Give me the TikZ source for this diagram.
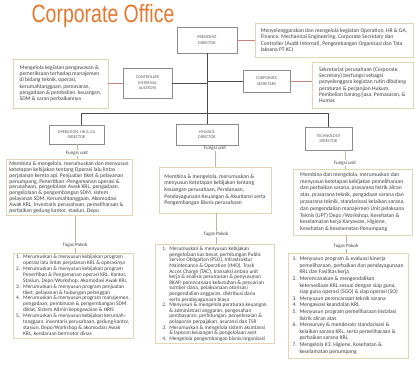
\documentclass[tikz,border=0pt]{standalone}
\usepackage{fontspec}
\setmainfont{Carlito}
\newfontfamily\titlefont{Liberation Sans}
\usepackage{graphicx}
\usetikzlibrary{positioning,calc}
\definecolor{orgorange}{HTML}{E4782E}
\definecolor{boxline}{HTML}{E3D4B4}
\definecolor{dirline}{HTML}{8C8C8C}
\definecolor{linkred}{HTML}{C9837A}
\definecolor{txtgray}{HTML}{404040}
\newcommand{\sz}[2]{\fontsize{#1}{#2}\selectfont}
\newcommand{\tn}[1]{\makebox[7pt][l]{#1}}
\newcommand{\tg}{\hspace*{7pt}}
\tikzset{
  dirbox/.style={draw=dirline, fill=white, text=txtgray!85, align=center, font=\sz{4.3}{5.4}, inner sep=1pt},
  descbox/.style={draw=boxline, line width=0.8pt, text=txtgray, align=left, inner sep=2pt},
  lbl/.style={text=txtgray, font=\sz{5}{6}, inner sep=1pt},
  mainline/.style={draw=black!70, line width=0.6pt},
  redline/.style={draw=linkred, line width=0.6pt},
  colline/.style={draw=boxline!85!black, line width=0.5pt}
}

\begin{document}
\begin{tikzpicture}[x=1pt, y=-1pt]
\useasboundingbox (0,0) rectangle (415,368);

% Title
\node[font=\titlefont\sz{25}{25}, text=orgorange] (title) at (103,16) {\scalebox{0.78}[1]{Corporate Office}};

% President
\node[dirbox, minimum width=60, minimum height=26] (pres) at (207,40) {PRESIDENT\\DIRECTOR};
\node[descbox, minimum width=158, minimum height=34, font=\sz{5.6}{6.2}] (presdesc) at (334,40)
  {Menyelenggarakan dan mengelola kegiatan Operation, HR \& GA,\\
   Finance, Mechanical Engineering, Corporate Secretary dan\\
   Controller (Audit Internal), Pengembangan Organisasi dan Tata\\
   laksana PT KCJ};

% Controller and Corporate Secretary
\node[dirbox, minimum width=49, minimum height=30] (ctrl) at (147.5,83) {CONTROLLER\\(INTERNAL\\AUDITOR)};
\node[descbox, minimum width=95, minimum height=49, font=\sz{5.6}{6.2}] (ctrldesc) at (60.5,83.5)
  {Mengelola kegiatan pengawasan \&\\
   pemeriksaan terhadap manajemen\\
   di bidang teknik, operasi,\\
   kerumahtanggaan, pemasaran,\\
   pengadaan \& pembelian, keuangan,\\
   SDM \& saran perbaikannya};
\node[dirbox, minimum width=47, minimum height=22] (sec) at (266.5,81) {CORPORATE\\SECRETARY};
\node[descbox, minimum width=101, minimum height=46, font=\sz{5.6}{6.2}] (secdesc) at (362.5,85)
  {Sekretariat perusahaan (Corporate\\
   Secretary) berfungsi sebagai\\
   penyelenggara kegiatan rutin dibidang\\
   peraturan \& perjanjian Hukum,\\
   Pembelian barang/jasa, Pemasaran, \&\\
   Humas};

% Directors
\node[dirbox, minimum width=55, minimum height=19] (op) at (76.5,134.5) {OPERATION, HR \& GA\\DIRECTOR};
\node[dirbox, minimum width=62, minimum height=21] (fin) at (207,134.5) {FINANCE\\DIRECTOR};
\node[dirbox, minimum width=47, minimum height=23] (tech) at (328.5,138.5) {TECHNOLOGY\\DIRECTOR};

\coordinate (brL) at (81,113);
\coordinate (brR) at (328.5,113);

% Operation column
\node[lbl] (opfu) at (77,153) {Fungsi unit};
\node[descbox, minimum width=126, minimum height=55, font=\sz{5.6}{5.9}] (opfun) at (69,187.5)
  {Membina \& mengelola, merumuskan dan menyusun\\
   ketetapan kebijakan tentang Operasi lalu lintas\\
   perjalanan kereta api, Penjualan tiket \& pelayanan\\
   penumpang, Penertiban -Pengamanan operasi \&\\
   perusahaan, pengelolaan Awak KRL, pengadaan,\\
   pengelolaan \& pengembangan SDM, sistem\\
   pelayanan SDM, Kerumahtanggaan, Akomodasi\\
   Awak KRL, Inventaris perusahaan, pemeliharaan \&\\
   perbaikan gedung kantor, stasiun, Depo};
\node[lbl] (optp) at (75,245) {Tugas Pokok};
\node[descbox, minimum width=120, minimum height=85, font=\sz{5.4}{5.9}] (optug) at (73,295.5)
  {\tn{1.}Merumuskan \& menyusun kebijakan program\\
   \tg operasi lalu lintas perjalanan KRL \& operasinya\\
   \tn{2.}Merumuskan \& menyusun kebijakan program\\
   \tg Penertiban \& Pengamanan operasi KRL, Kantor,\\
   \tg Stasiun, Depo/Workshop, Akomodasi Awak KRL\\
   \tn{3.}Merumuskan \& menyusun program penjualan\\
   \tg tiket, pelayanan \& hubungan pelanggan\\
   \tn{4.}Merumuskan \& menyusun program manajemen,\\
   \tg pengadaan, pembinaan \& pengembangan SDM,\\
   \tg diklat, Sistem Admin kepegawaian \& HRIS\\
   \tn{5.}Merumuskan \& menyusun kebijakan kerumah-\\
   \tg tanggaan, inventaris perusahaan, gedung kantor,\\
   \tg stasiun, Depo/Workshop \& akomodasi Awak\\
   \tg KRL, kendaraan bermotor dinas};

% Finance column
\node[lbl] (finfu) at (215,148) {Fungsi unit};
\node[descbox, minimum width=112, minimum height=46, font=\sz{5.6}{6.6}] (finfun) at (215,190)
  {Membina \& mengelola, merumuskan \&\\
   menyusun Ketetapan kebijakan tentang\\
   Keuangan perusahaan, Pendanaan,\\
   Pendayagunaan Keuangan \& Akuntansi serta\\
   Pengembangan Bisnis perusahaan};
\node[lbl] (fintp) at (216,234) {Tugas Pokok};
\node[descbox, minimum width=119, minimum height=96, font=\sz{5.4}{5.6}] (fintug) at (214.5,294)
  {\tn{1.}Merumuskan \& menyusun kebijakan\\
   \tg pengelolaan kas besar, perhitungan Public\\
   \tg Service Obligation (PSO), Infrastruktur\\
   \tg Maintenance \& Operation (IMO), Track\\
   \tg Acces Charge (TAC), transaksi antara unit\\
   \tg kerja \& analisis perumusan \& penyusunan\\
   \tg RKAP, perencanaan kebutuhan \& pencarian\\
   \tg sumber dana, pelaksanaan otorisasi\\
   \tg pengendalian anggaran, distribusi dana\\
   \tg serta pendayagunaan biaya\\
   \tn{2.}Menyusun \& mengelola peraturan keuangan\\
   \tg \& administrasi anggaran, pengesahan\\
   \tg pembayaran, perhitungan, penyelesaian \&\\
   \tg pelaporan perpajakan, asuransi dan TSR\\
   \tn{3.}Merumuskan \& mengelola sistem akuntansi\\
   \tg \& laporan keuangan \& pengelolaan aset\\
   \tn{4.}Mengelola pengembangan bisnis/organisasi};

% Technology column
\node[lbl] (techfu) at (345,163) {Fungsi unit};
\node[descbox, minimum width=119, minimum height=66, font=\sz{5.6}{6.8}] (techfun) at (352.5,202)
  {Membina dan mengelola, merumuskan dan\\
   menyusun ketetapan kebijakan pemeliharaan\\
   dan perbaikan sarana, prasarana listrik aliran\\
   atas, prasarana teknik, pengadaan sarana dan\\
   prasarana teknik, standarisasi kelaikan sarana,\\
   dan pengendalian manajemen Unit pelaksana\\
   Teknis (UPT) Depo /Workshop, Kesehatan \&\\
   keselamatan kerja Karyawan, Higiene,\\
   Kesehatan \& keselamatan Penumpang};
\node[lbl] (techtp) at (346,246) {Tugas Pokok};
\node[descbox, minimum width=120, minimum height=105, font=\sz{5.6}{6.6}] (techtug) at (348,305.5)
  {\tn{1.}Menyusun program \& evaluasi kinerja\\
   \tg pemeliharaan, perbaikan dan pendayagunaan\\
   \tg KRL dan Fasilitas kerja\\
   \tn{2.}Merencanakan \& mengendalikan\\
   \tg ketersediaan KRL sesuai dengan siap guna,\\
   \tg siap guna operasi (SGO) \& siap operasi (SO)\\
   \tn{3.}Menyusun perencanaan teknik sarana\\
   \tn{4.}Mengawasi keandalan KRL\\
   \tn{5.}Menyusun program pemeliharaan instalasi\\
   \tg listrik aliran atas\\
   \tn{6.}Mensurvey \& mendesain standarisasi \&\\
   \tg kelaikan sarana KRL, serta pemeliharaan \&\\
   \tg perbaikan sarana KRL\\
   \tn{7.}Mengelola K3, Higiene, Kesehatan \&\\
   \tg keselamatan penumpang};

% Lines
\draw[mainline] (pres.south) -- (fin.north);
\draw[mainline] (brL |- op.north) -- (brL) -- (brR) -- (brR |- tech.north);
\draw[mainline] (ctrl.east) -- (ctrl.east -| pres.south);
\draw[mainline] (sec.west -| pres.south) -- (sec.west);
\draw[redline] (pres.east) -- (presdesc.west);
\draw[redline] (ctrldesc.east |- ctrl.west) -- (ctrl.west);
\draw[redline] (sec.east) -- (sec.east -| secdesc.west);

\draw[colline] (op.south -| opfu.north) -- (opfu.north);
\draw[colline] (opfu.south) -- (opfu.south |- opfun.north);
\draw[colline] (opfun.south -| optp.north) -- (optp.north);
\draw[colline] (optp.south) -- (optp.south |- optug.north);
\draw[colline] (fin.south -| finfu.north) -- (finfu.north);
\draw[colline] (finfu.south) -- (finfu.south |- finfun.north);
\draw[colline] (finfun.south -| fintp.north) -- (fintp.north);
\draw[colline] (fintp.south) -- (fintp.south |- fintug.north);
\draw[colline] (tech.south -| techfu.north) -- (techfu.north);
\draw[colline] (techfu.south) -- (techfu.south |- techfun.north);
\draw[colline] (techfun.south -| techtp.north) -- (techtp.north);
\draw[colline] (techtp.south) -- (techtp.south |- techtug.north);
\end{tikzpicture}
\end{document}
